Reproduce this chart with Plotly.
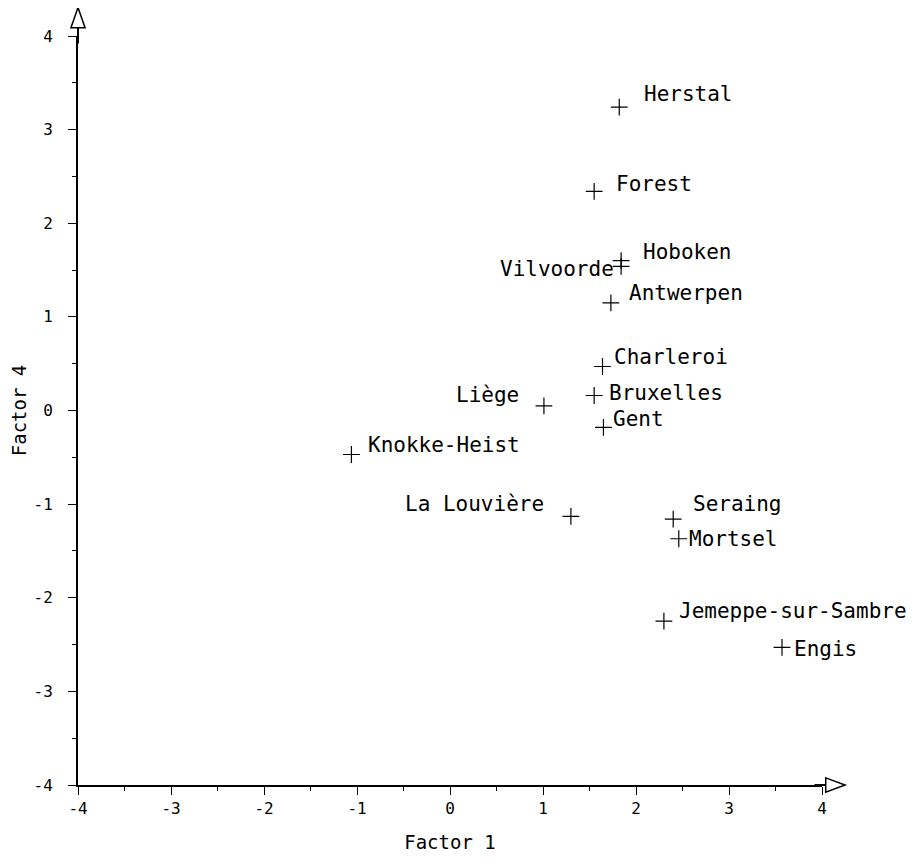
import plotly.graph_objects as go

# ---- data ----
cities = ["Herstal", "Forest", "Hoboken", "Vilvoorde", "Antwerpen", "Charleroi",
          "Bruxelles", "Gent", "Liège", "Knokke-Heist", "La Louvière", "Seraing",
          "Mortsel", "Jemeppe-sur-Sambre", "Engis"]
factor1 = [1.82, 1.55, 1.84, 1.84, 1.73, 1.64, 1.55, 1.65, 1.01, -1.06, 1.30, 2.40, 2.46, 2.30, 3.57]
factor4 = [3.24, 2.34, 1.60, 1.54, 1.15, 0.47, 0.16, -0.18, 0.05, -0.47, -1.13, -1.16, -1.37, -2.25, -2.53]
tick_vals = [-4, -3, -2, -1, 0, 1, 2, 3, 4]
tick_text = ["-4", "-3", "-2", "-1", "0", "1", "2", "3", "4"]

# ---- label placement (style) ----
anchors = ["left", "left", "left", "right", "left", "left", "left", "left", "right",
           "left", "right", "left", "left", "left", "left"]
dxs = [23, 20, 20, -5, 16, 9, 13, 8, -23, 15, -25, 18, 8, 13, 10]
dys = [-13, -7, -9, 3, -10, -10, -3, -8, -11, -10, -12, -15, 0, -10, 2]

FONT = "DejaVu Sans Mono"

fig = go.Figure()
fig.add_trace(go.Scatter(
    x=factor1, y=factor4, mode="markers",
    marker=dict(symbol="cross-thin", size=12, line=dict(color="black", width=1.2)),
    hoverinfo="text", text=cities, showlegend=False,
))

for c, x, y, a, dx, dy in zip(cities, factor1, factor4, anchors, dxs, dys):
    fig.add_annotation(x=x, y=y, text=c, showarrow=False, xanchor=a, yanchor="middle",
                       xshift=dx, yshift=-dy, font=dict(family=FONT, size=21, color="black"))

# axis extensions and arrowheads (hollow triangles)
fig.add_shape(type="line", xref="paper", yref="paper", x0=0, x1=0, y0=0.99, y1=1.011,
              line=dict(color="black", width=2))
fig.add_shape(type="line", xref="paper", yref="paper", x0=0.99, x1=1.005, y0=0, y1=0,
              line=dict(color="black", width=2))
fig.add_shape(type="path", xref="paper", yref="paper",
              path="M -0.0095,1.011 L 0,1.038 L 0.0095,1.011 Z",
              line=dict(color="black", width=1.5), fillcolor="white")
fig.add_shape(type="path", xref="paper", yref="paper",
              path="M 1.005,0.0095 L 1.031,0 L 1.005,-0.0095 Z",
              line=dict(color="black", width=1.5), fillcolor="white")

axis_common = dict(
    range=[-4, 4], tickvals=tick_vals, ticktext=tick_text, automargin=False,
    showgrid=False, zeroline=False, showline=True, linecolor="black", linewidth=2,
    ticks="outside", ticklen=8, tickwidth=1, tickcolor="black",
    minor=dict(dtick=0.5, ticks="outside", ticklen=4, tickcolor="black", tickwidth=1),
    tickfont=dict(family=FONT, size=16, color="black"),
)

fig.update_xaxes(**axis_common, title=dict(text="Factor 1", font=dict(family=FONT, size=19, color="black"), standoff=18))
fig.update_yaxes(**axis_common, title=dict(text="Factor 4", font=dict(family=FONT, size=19, color="black"), standoff=4),
                 ticklabelstandoff=12)

fig.update_layout(
    width=908, height=859,
    margin=dict(l=70, r=94, t=28, b=82),
    plot_bgcolor="white", paper_bgcolor="white",
)

fig.write_html("out.html")
